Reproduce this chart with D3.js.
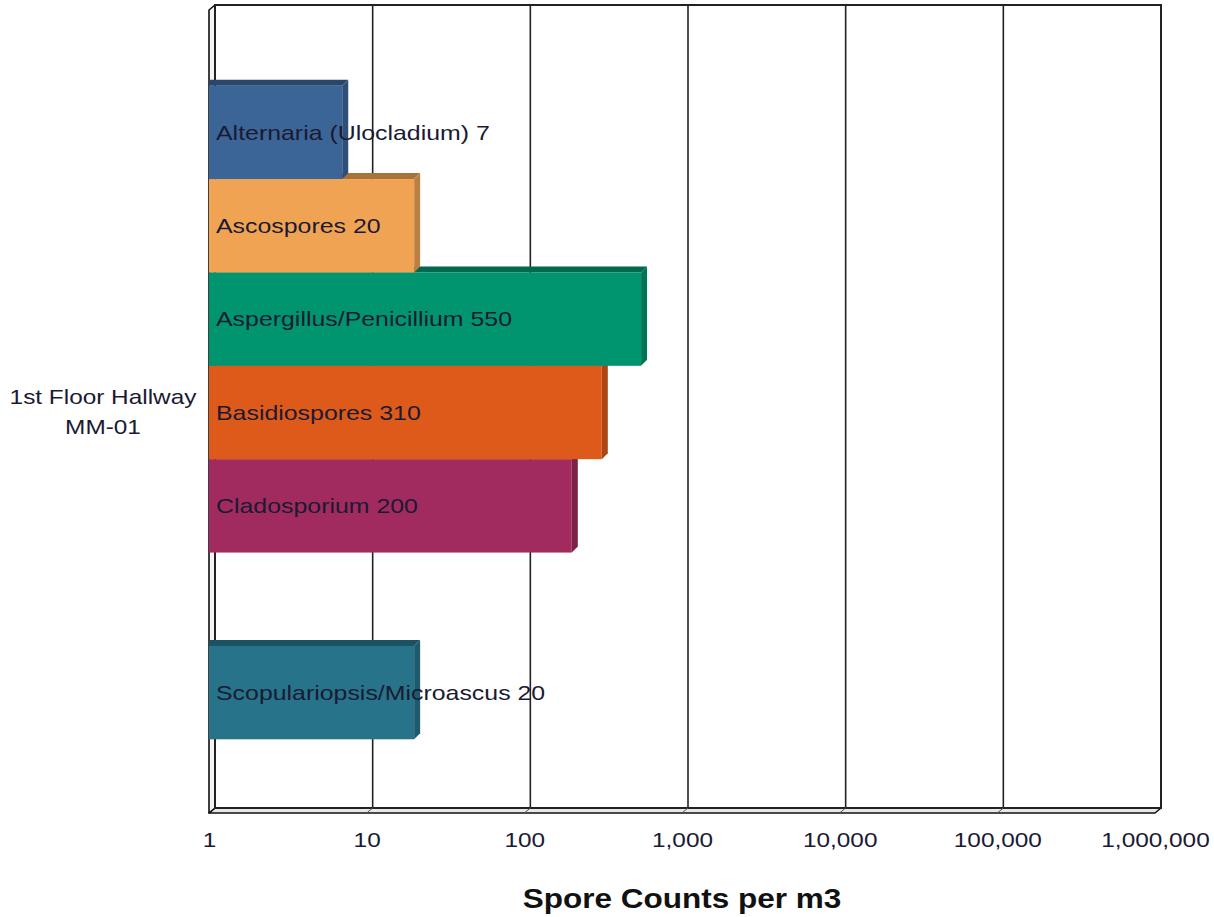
<!DOCTYPE html>
<html>
<head>
<meta charset="utf-8">
<script src="https://cdn.jsdelivr.net/npm/d3@7"></script>
<style>
  html, body { margin: 0; padding: 0; background: #fff; }
  svg { display: block; }
</style>
</head>
<body>
<svg id="chart" width="1214" height="917"></svg>
<script>
// Sample location (single category on the y axis)
const categories = ["1st Floor Hallway\nMM-01"];

// Spore types, one series each; the empty slot holds no reading
const seriesNames = [
  "Alternaria (Ulocladium)",
  "Ascospores",
  "Aspergillus/Penicillium",
  "Basidiospores",
  "Cladosporium",
  null,
  "Scopulariopsis/Microascus"
];
const seriesValues = [7, 20, 550, 310, 200, null, 20];
const seriesColors = ["#3b6597", "#f0a453", "#00956e", "#dd5a1b", "#a12b5e", null, "#26738a"];

const tickValues = [1, 10, 100, 1000, 10000, 100000, 1000000];
const tickLabels = ["1", "10", "100", "1,000", "10,000", "100,000", "1,000,000"];
const axisTitle = "Spore Counts per m3";

const svg = d3.select("#chart");
const FONT = "Liberation Sans, Arial, sans-serif";
const WIDEN = 1.16; // text is set slightly wide

// Stretch a text element horizontally, keeping its anchor
function widen(sel, k) {
  sel.each(function() {
    const len = this.getComputedTextLength();
    d3.select(this).attr("textLength", len * k).attr("lengthAdjust", "spacingAndGlyphs");
  });
}

// Front plane of the 3D plot box and the depth offset to the back wall
const front = { left: 209, right: 1155, top: 10, bottom: 813 };
const depth = { dx: 6, dy: -5 };

const x = d3.scaleLog().domain([1, 1000000]).range([front.left, front.right]);
const xBack = v => x(v) + depth.dx;

const yCat = d3.scaleBand().domain(categories).range([front.top, front.bottom]);
const ySeries = d3.scaleBand()
  .domain(d3.range(seriesNames.length))
  .range([yCat(categories[0]) + 1, yCat(categories[0]) + yCat.bandwidth() + 1])
  .paddingOuter(0.8).paddingInner(0);

const g = svg.append("g");

// Floor
g.append("path")
  .attr("d", `M${front.left},${front.bottom} L${front.left + depth.dx},${front.bottom + depth.dy} L${front.right + depth.dx},${front.bottom + depth.dy} L${front.right},${front.bottom} Z`)
  .attr("fill", "#e8e8e8").attr("stroke", "#111").attr("stroke-width", 1.6).attr("stroke-linejoin", "round");

// Left side wall
g.append("path")
  .attr("d", `M${front.left},${front.top} L${front.left + depth.dx},${front.top + depth.dy} L${front.left + depth.dx},${front.bottom + depth.dy} L${front.left},${front.bottom} Z`)
  .attr("fill", "#f4f4f4").attr("stroke", "#111").attr("stroke-width", 1.6).attr("stroke-linejoin", "round");

// Back wall
g.append("rect")
  .attr("x", xBack(1)).attr("y", front.top + depth.dy)
  .attr("width", xBack(1000000) - xBack(1)).attr("height", front.bottom - front.top)
  .attr("fill", "#fff").attr("stroke", "#222").attr("stroke-width", 2);

// Vertical gridlines on the back wall and their floor edges
g.selectAll("line.grid").data(tickValues.slice(1, -1)).join("line")
  .attr("class", "grid")
  .attr("x1", d => xBack(d)).attr("x2", d => xBack(d))
  .attr("y1", front.top + depth.dy).attr("y2", front.bottom + depth.dy)
  .attr("stroke", "#222").attr("stroke-width", 1.6);
g.selectAll("line.floorgrid").data(tickValues.slice(1, -1)).join("line")
  .attr("class", "floorgrid")
  .attr("x1", d => xBack(d)).attr("x2", d => x(d))
  .attr("y1", front.bottom + depth.dy).attr("y2", front.bottom)
  .attr("stroke", "#555").attr("stroke-width", 1);

// Bars, drawn bottom-up so each bar's front face covers the top face of the one below
const bars = seriesNames.map((name, i) => ({ name, value: seriesValues[i], color: seriesColors[i], i }))
  .filter(d => d.value != null);
const bh = ySeries.bandwidth();
const bd = 6;

const barG = g.selectAll("g.bar").data(bars.slice().reverse()).join("g").attr("class", "bar");
barG.each(function(d) {
  const sel = d3.select(this);
  const x0 = x(1), x1 = x(d.value), y0 = ySeries(d.i);
  const c = d3.color(d.color);
  // top face
  sel.append("path")
    .attr("d", `M${x0},${y0 - bd} L${x1 + bd},${y0 - bd} L${x1},${y0} L${x0},${y0} Z`)
    .attr("fill", c.darker(1.0));
  // side face
  sel.append("path")
    .attr("d", `M${x1},${y0} L${x1 + bd},${y0 - bd} L${x1 + bd},${y0 + bh - bd} L${x1},${y0 + bh} Z`)
    .attr("fill", c.darker(0.7));
  // front face
  sel.append("rect")
    .attr("x", x0).attr("y", y0).attr("width", x1 - x0).attr("height", bh)
    .attr("fill", d.color);
});

// Value labels inside the bars
g.selectAll("text.vlabel").data(bars).join("text")
  .attr("class", "vlabel")
  .attr("x", x(1) + 7)
  .attr("y", d => ySeries(d.i) + bh / 2)
  .attr("dy", "0.35em")
  .attr("font-family", FONT)
  .attr("font-size", 21)
  .attr("fill", "#1a1a33")
  .text(d => `${d.name} ${d3.format(",")(d.value)}`)
  .call(widen, 1.185);

// Category label
const catText = g.append("text")
  .attr("x", 103)
  .attr("y", yCat(categories[0]) + yCat.bandwidth() / 2)
  .attr("text-anchor", "middle")
  .attr("font-family", FONT)
  .attr("font-size", 21)
  .attr("fill", "#1a1a33");
const catLines = categories[0].split("\n");
catText.selectAll("tspan").data(catLines).join("tspan")
  .attr("x", 103)
  .attr("dy", (d, i) => i === 0 ? "-0.35em" : "1.43em")
  .text(d => d)
  .call(widen, WIDEN);

// X axis tick labels
const xAxis = d3.axisBottom(x).tickValues(tickValues).tickFormat((d, i) => tickLabels[i]).tickSize(0).tickPadding(19);
const axG = svg.append("g").attr("transform", `translate(0,${front.bottom})`).call(xAxis);
axG.select(".domain").remove();
axG.selectAll("text")
  .attr("font-family", FONT)
  .attr("font-size", 21)
  .attr("fill", "#1a1a33")
  .call(widen, WIDEN);

// Axis title
svg.append("text")
  .attr("x", 682)
  .attr("y", 908)
  .attr("text-anchor", "middle")
  .attr("font-family", FONT)
  .attr("font-weight", "bold")
  .attr("font-size", 28)
  .attr("fill", "#111")
  .text(axisTitle)
  .call(widen, 1.125);
</script>
</body>
</html>
